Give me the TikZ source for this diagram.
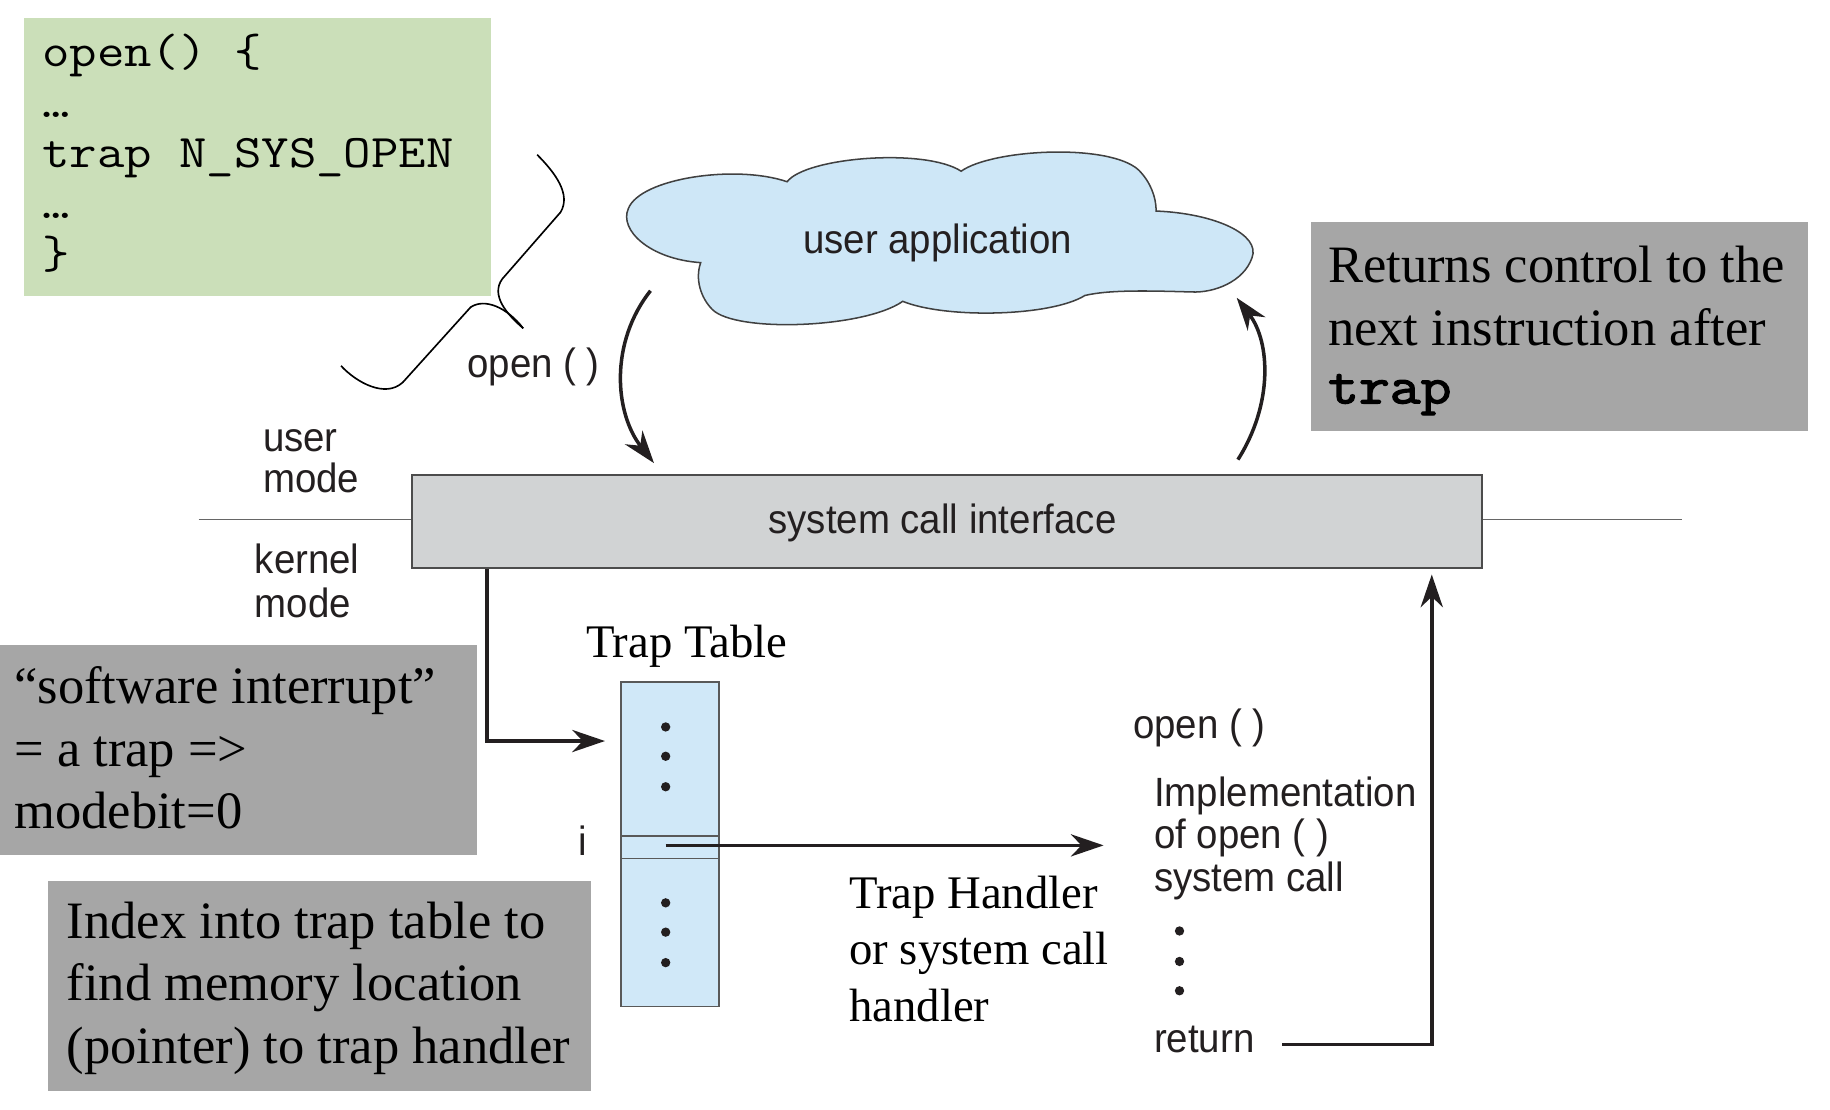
\documentclass[tikz,border=0pt]{standalone}
\usepackage{fontspec}
\setmainfont{Liberation Serif}
\newfontfamily\figsans[FakeStretch=0.94]{Liberation Sans}
\newfontfamily\codefont[FakeStretch=1.14]{Latin Modern Mono}
\newfontfamily\codebold[FakeStretch=1.14,FakeBold=2.5]{Latin Modern Mono}
\usetikzlibrary{arrows.meta}
\definecolor{codegreen}{RGB}{203,223,185}
\definecolor{cloudblue}{RGB}{206,231,247}
\definecolor{tableblue}{RGB}{208,232,248}
\definecolor{scigray}{RGB}{209,211,212}
\definecolor{boxgray}{RGB}{166,166,166}
\definecolor{inkdark}{RGB}{35,31,32}
\tikzset{
  sanslbl/.style={font=\figsans\fontsize{35}{38}\selectfont, text=inkdark, inner sep=0pt},
  serifmid/.style={font=\fontsize{40}{48}\selectfont, text=black, inner sep=0pt},
  seriflarge/.style={font=\fontsize{45}{54}\selectfont, text=black, inner sep=0pt},
  codetxt/.style={font=\codefont\fontsize{40}{43}\selectfont, text=black, inner sep=0pt},
  graybox/.style={fill=boxgray, draw=none, inner sep=0pt, anchor=north west},
  arr/.style={line width=3pt, draw=inkdark, -{Stealth[length=28pt,width=19pt,inset=9pt]}},
  thinline/.style={line width=1.5pt, draw=black!60},
  tdot/.style={fill=inkdark},
}
\begin{document}
\begin{tikzpicture}[x=1pt,y=-1.004pt]
\useasboundingbox[fill=white] (0,0) rectangle (1567,946.2);

% code box
\node[fill=codegreen, inner sep=0pt, anchor=north west, minimum width=400pt, minimum height=238pt] (code) at (20,15) {};
\node[codetxt, anchor=base west] (c1) at (36,57) {open() \{};
\node[codetxt, anchor=base west] (c2) at (36,100) {…};
\node[codetxt, anchor=base west] (c3) at (36,143) {trap N\_SYS\_OPEN};
\node[codetxt, anchor=base west] (c4) at (36,186) {…};
\node[codetxt, anchor=base west] (c5) at (36,229) {\}};

% brace
\draw[line width=1.4pt, draw=black] (460,132) .. controls (476,148) and (489,166) .. (480,181) -- (430,238) .. controls (420,252) and (434,268) .. (448,280);
\draw[line width=1.4pt, draw=black] (448,280) .. controls (434,262) and (415,254) .. (403,262) -- (345,326) .. controls (330,340) and (305,326) .. (292,312);

% cloud
\draw[fill=cloudblue, draw=black!75, line width=1.3pt]
  (600,224) .. controls (556,221) and (530,196) .. (538,178)
  .. controls (548,152) and (630,140) .. (674,155)
  .. controls (690,134) and (792,126) .. (823,146)
  .. controls (850,127) and (950,122) .. (975,145)
  .. controls (985,155) and (990,168) .. (990,180)
  .. controls (1040,182) and (1080,200) .. (1072,220)
  .. controls (1065,240) and (1040,250) .. (1020,249)
  .. controls (985,248) and (950,247) .. (929,252)
  .. controls (900,270) and (810,272) .. (773,257)
  .. controls (740,280) and (630,284) .. (610,264)
  .. controls (600,254) and (595,238) .. (600,224) -- cycle;
\node[sanslbl, anchor=base] (app) at (803,216) {user application};

% system call interface
\node[draw=black!70, fill=scigray, line width=1.8pt, inner sep=0pt, anchor=north west, minimum width=916pt, minimum height=80pt] (sci) at (352,404) {};
\node[sanslbl, anchor=base] (scitext) at (807,455) {system call interface};
\coordinate (lineL) at (170,443);
\coordinate (lineR) at (1440,443);
\draw[thinline] (lineL) -- (lineL -| sci.west);
\draw[thinline] (lineR -| sci.east) -- (lineR);

% mode labels
\node[sanslbl, anchor=base west] (um1) at (225,385) {user};
\node[sanslbl, anchor=base west] (um2) at (225,420) {mode};
\node[sanslbl, anchor=base west] (km1) at (218,489) {kernel};
\node[sanslbl, anchor=base west] (km2) at (218,527) {mode};

% curved arrows
\node[sanslbl, anchor=base west] (openlbl) at (400,322) {open ( )};
\coordinate (u1) at (557,248);
\coordinate (s1) at (560,395);
\draw[arr] (u1) .. controls (522,292) and (526,352) .. (s1);
\coordinate (s2) at (1060,392);
\coordinate (u2) at (1059,254);
\draw[arr] (s2) .. controls (1090,345) and (1088,292) .. (u2);

% trap table
\node[serifmid, anchor=base] (ttlabel) at (588,561) {Trap Table};
\node[draw=black!65, fill=tableblue, line width=1.3pt, inner sep=0pt, anchor=north west, minimum width=84pt, minimum height=278pt] (table) at (531,581) {};
\draw[line width=1.3pt, draw=black!65] (table.west |- 0,713) -- (table.east |- 0,713);
\draw[line width=1.3pt, draw=black!65] (table.west |- 0,732) -- (table.east |- 0,732);
\foreach \yy in {620,645,671,770,795,821} { \fill[tdot] (570,\yy) circle (4pt); }
\node[sanslbl, anchor=base west] (ilbl) at (495,730) {i};
\coordinate (tin) at (518,632);
\draw[arr] ([xshift=65pt]sci.south west) |- (tin);
\coordinate (ti) at (570,721);
\coordinate (hnd) at (945,721);
\draw[arr] (ti) -- (hnd);

% handler texts
\node[serifmid, anchor=base west] (th1) at (727,775) {Trap Handler};
\node[serifmid, anchor=base west] (th2) at (727,823) {or system call};
\node[serifmid, anchor=base west] (th3) at (727,871) {handler};

\node[sanslbl, anchor=base west] (r1) at (970,630) {open ( )};
\node[sanslbl, anchor=base west] (r2) at (988,688) {Implementation};
\node[sanslbl, anchor=base west] (r3) at (988,724) {of open ( )};
\node[sanslbl, anchor=base west] (r4) at (988,760) {system call};
\foreach \yy in {794,820,845} { \fill[tdot] (1010,\yy) circle (4pt); }
\node[sanslbl, anchor=base west] (r5) at (988,898) {return};
\coordinate (retstart) at (1098,891);
\coordinate (retend) at (1226,490);
\draw[arr] (retstart) -| (retend);

% gray annotation boxes
\node[graybox, minimum width=426pt, minimum height=179pt] (retbox) at (1122,189) {};
\node[seriflarge, anchor=base west] (rb1) at (1137,241) {Returns control to the};
\node[seriflarge, anchor=base west] (rb2) at (1137,295) {next instruction after};
\node[seriflarge, anchor=base west, font=\codebold\fontsize{45}{54}\selectfont] (rb3) at (1137,344) {trap};

\node[graybox, minimum width=408pt, minimum height=180pt] (swibox) at (0,550) {};
\node[seriflarge, anchor=base west] (sb1) at (12,600) {“software interrupt”};
\node[seriflarge, anchor=base west] (sb2) at (12,654) {= a trap =>};
\node[seriflarge, anchor=base west] (sb3) at (12,707) {modebit=0};

\node[graybox, minimum width=465pt, minimum height=180pt] (idxbox) at (41,751) {};
\node[seriflarge, anchor=base west] (ib1) at (57,800) {Index into trap table to};
\node[seriflarge, anchor=base west] (ib2) at (57,853) {find memory location};
\node[seriflarge, anchor=base west] (ib3) at (57,907) {(pointer) to trap handler};
\end{tikzpicture}
\end{document}
